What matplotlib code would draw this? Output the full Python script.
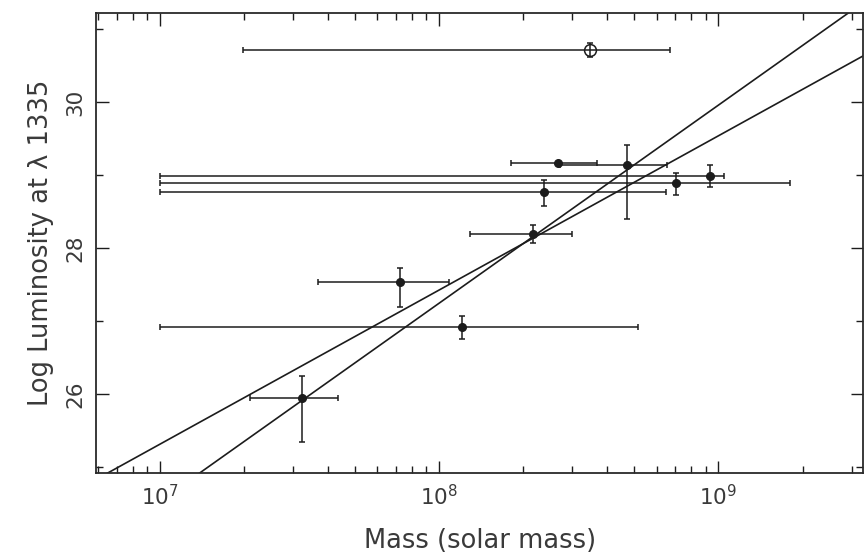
import numpy as np
import matplotlib
matplotlib.use("Agg")
import matplotlib.pyplot as plt
from matplotlib.ticker import LogLocator, MultipleLocator, NullFormatter

# === Black hole mass vs. UV luminosity (log L at 1335 A) ===
# filled points: mass, mass error range, luminosity with lower/upper errors
mass = [2.67e8, 4.7e8, 2.38e8, 7.06e8, 9.35e8, 2.17e8, 7.24e7, 1.21e8, 3.23e7]
mass_lo = [1.8e8, 2.7e8, 1.0e7, 1.0e7, 1.0e7, 1.29e8, 3.68e7, 1.0e7, 2.1e7]
mass_hi = [3.68e8, 6.56e8, 6.5e8, 1.8e9, 1.05e9, 3.0e8, 1.08e8, 5.17e8, 4.35e7]
lum = [29.16, 29.14, 28.77, 28.89, 28.99, 28.19, 27.53, 26.92, 25.95]
lum_err_lo = [0.0, 0.74, 0.2, 0.16, 0.15, 0.12, 0.34, 0.17, 0.61]
lum_err_hi = [0.0, 0.27, 0.16, 0.14, 0.15, 0.12, 0.20, 0.15, 0.30]

# open point
open_mass = [3.47e8]
open_mass_lo = [1.98e7]
open_mass_hi = [6.7e8]
open_lum = [30.71]
open_lum_err = [0.1]

# fitted relations: log L = intercept + slope * log M
fit_intercept = [5.567, 10.547]
fit_slope = [2.71, 2.11]

ink = "#1c1c1c"
text_col = "#3a3a3a"

fig = plt.figure(figsize=(8.65, 5.56), dpi=100)
ax = fig.add_axes([0.111, 0.149, 0.887, 0.828])

mass = np.array(mass)
xerr = [mass - np.array(mass_lo), np.array(mass_hi) - mass]
yerr = [lum_err_lo, lum_err_hi]
ax.errorbar(mass, lum, xerr=xerr, yerr=yerr, fmt="o", ms=5.5, color=ink,
            ecolor=ink, elinewidth=1.1, capsize=2.5, capthick=1.1)

open_mass = np.array(open_mass)
ax.errorbar(open_mass, open_lum,
            xerr=[open_mass - np.array(open_mass_lo), np.array(open_mass_hi) - open_mass],
            yerr=open_lum_err, fmt="o", ms=8.5, mfc="none", mec=ink, mew=1.1,
            color=ink, ecolor=ink, elinewidth=1.1, capsize=2.5, capthick=1.1)

xs = np.logspace(6.7, 9.6, 50)
for a, b in zip(fit_intercept, fit_slope):
    ax.plot(xs, a + b * np.log10(xs), color=ink, lw=1.2)

ax.set_xscale("log")
ax.set_xlim(5.9e6, 3.3e9)
ax.set_ylim(24.92, 31.22)

ax.xaxis.set_major_locator(LogLocator(base=10))
ax.xaxis.set_minor_locator(LogLocator(base=10, subs=np.arange(2, 10)))
ax.xaxis.set_minor_formatter(NullFormatter())
ax.yaxis.set_major_locator(MultipleLocator(2))
ax.yaxis.set_minor_locator(MultipleLocator(1))

ax.tick_params(which="both", direction="in", top=True, right=True,
               color=ink, labelcolor=text_col, labelsize=15.5)
ax.tick_params(which="major", length=9, width=1.0)
ax.tick_params(which="minor", length=5, width=1.0)
ax.tick_params(axis="y", labelrotation=90, pad=8)
ax.tick_params(axis="x", pad=8)
for lab in ax.get_yticklabels():
    lab.set_va("center")

for sp in ax.spines.values():
    sp.set_color("#2a2a2a")
    sp.set_linewidth(1.3)

ax.set_xlabel("Mass (solar mass)", fontsize=18.5, color=text_col, labelpad=13)
ax.set_ylabel("Log Luminosity at \u03bb 1335", fontsize=18.5, color=text_col, labelpad=8)

fig.savefig("out.png", dpi=100)
